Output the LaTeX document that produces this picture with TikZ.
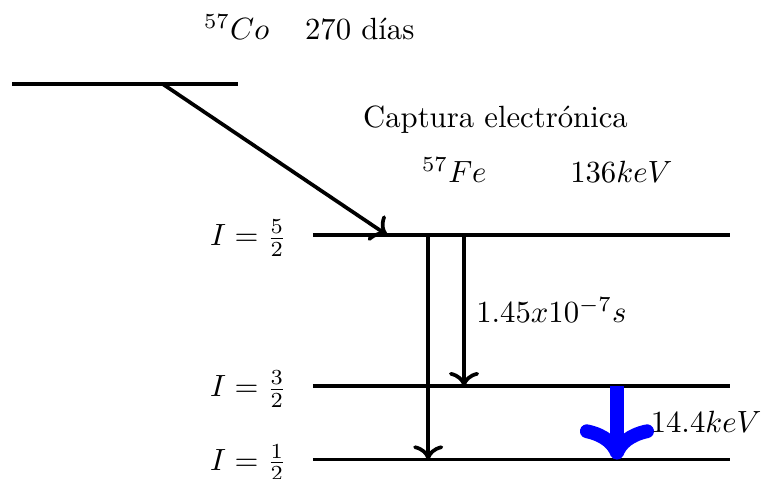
\documentclass[tikz,border=0pt]{standalone}
\usetikzlibrary{arrows.meta}
\begin{document}
\begin{tikzpicture}[
    level/.style={very thick},
    spin/.style={left=5pt,yshift=-1pt},
    decay/.style={very thick,-{Computer Modern Rightarrow[scale=1.1]}},
    gamma/.style={line width=4.5pt,blue,-{Computer Modern Rightarrow}}
]
\useasboundingbox (0,0) rectangle (8.72,5.48);

% Co level
\draw[level] (0.14,4.52) -- (2.72,4.52);
\coordinate (Co) at (1.86,4.52);
\node[anchor=base] (CoLabel) at (3.54,5.03) {$^{57}Co$\quad\,270 días};

% Fe levels
\draw[level] (3.58,2.79) coordinate (L5) -- (8.35,2.79);
\draw[level] (3.58,1.06) coordinate (L3) -- (8.35,1.06);
\draw[level] (3.58,0.22) coordinate (L1) -- (8.35,0.22);

\node[spin] (I5) at (L5) {$I=\frac{5}{2}$};
\node[spin] (I3) at (L3) {$I=\frac{3}{2}$};
\node[spin] (I1) at (L1) {$I=\frac{1}{2}$};

% Labels
\node[anchor=base] (EC) at (5.67,4.02) {Captura electrónica};
\node[anchor=base] (Fe) at (5.20,3.39) {$^{57}Fe$};
\node[anchor=base] (E136) at (7.11,3.39) {$136keV$};
\node[anchor=base] (tau) at (6.31,1.79) {$1.45x10^{-7}s$};

% Transitions
\coordinate (Ec) at (4.43,2.79);
\draw[decay] (Co) -- (Ec);

\coordinate (A5) at (4.90,2.79);
\coordinate (A1) at (4.90,0.22);
\draw[decay] (A5) -- (A1);

\coordinate (B5) at (5.31,2.79);
\coordinate (B3) at (5.31,1.06);
\draw[decay] (B5) -- (B3);

\coordinate (G3) at (7.06,1.06);
\coordinate (G1) at (7.06,0.22);
\draw[gamma] (G3) -- (G1);
\node[anchor=base] (E14) at (8.08,0.53) {$14.4keV$};

\end{tikzpicture}
\end{document}
